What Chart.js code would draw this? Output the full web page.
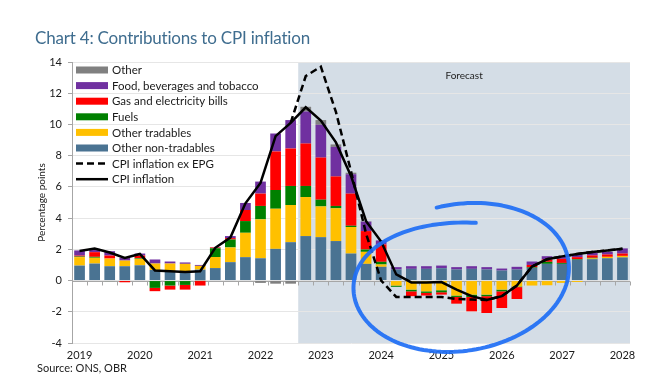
<!DOCTYPE html>
<html><head><meta charset="utf-8">
<script src="https://cdn.jsdelivr.net/npm/chart.js@4.4.1/dist/chart.umd.min.js"></script>
<style>
html,body{margin:0;padding:0;background:#fff;width:647px;height:389px;overflow:hidden}
#wrap{position:relative;width:647px;height:389px}
#title{position:absolute;left:35px;top:27px;font-family:Lato,sans-serif;font-size:17px;color:#3f6d8f;white-space:nowrap;letter-spacing:-0.2px}
#source{position:absolute;left:37px;top:361px;font-family:Lato,sans-serif;font-size:11px;color:#222;white-space:nowrap}
canvas{position:absolute;left:0;top:0}
</style></head><body>
<div id="wrap"><canvas id="c" width="647" height="389"></canvas>
<div id="title">Chart 4: Contributions to CPI inflation</div>
<div id="source">Source: ONS, OBR</div></div>
<script>
const quarters = ['2019 Q1','2019 Q2','2019 Q3','2019 Q4','2020 Q1','2020 Q2','2020 Q3','2020 Q4',
'2021 Q1','2021 Q2','2021 Q3','2021 Q4','2022 Q1','2022 Q2','2022 Q3','2022 Q4',
'2023 Q1','2023 Q2','2023 Q3','2023 Q4','2024 Q1','2024 Q2','2024 Q3','2024 Q4',
'2025 Q1','2025 Q2','2025 Q3','2025 Q4','2026 Q1','2026 Q2','2026 Q3','2026 Q4',
'2027 Q1','2027 Q2','2027 Q3','2027 Q4','2028 Q1'];
const forecastStart = '2022 Q4';

const otherNonTradables = [0.96,1.09,0.92,0.92, 0.98,0.68,0.60,0.60, 0.70,0.80,1.18,1.50, 1.43,2.03,2.46,2.85, 2.78,2.53,1.73,1.07, 0.88,0.71,0.75,0.75, 0.79,0.71,0.75,0.71, 0.64,0.71,0.81,1.07, 1.07,1.33,1.37,1.43, 1.48];
const otherTradables = [0.54,0.37,0.49,0.36, 0.41,0.41,0.49,0.47, 0.24,0.71,0.94,1.56, 2.49,2.57,2.38,2.50, 1.97,2.10,1.70,0.77, 0.15,-0.32,-0.58,-0.69, -0.62,-0.96,-0.90,-0.90, -0.58,-0.38,-0.32,-0.30, -0.15,-0.09,0.05,0.09, 0.10];
const fuels = [0.04,0.06,-0.03,-0.03, 0.04,-0.47,-0.32,-0.28, -0.02,0.56,0.51,0.75, 0.86,1.20,1.22,0.71, 0.43,0.15,0.08,0.15, 0.17,-0.08,-0.11,-0.10, -0.13,-0.09,-0.15,-0.10, -0.11,-0.04,0.04,0.13, 0.06,0.04,0.04,0.00, 0.00];
const gasElectricity = [0.06,0.30,0.19,-0.08, 0.17,-0.21,-0.26,-0.30, -0.30,0.05,0.09,0.71, 0.79,2.47,2.40,2.72, 2.70,1.89,2.06,1.18, 1.11,0.00,-0.31,-0.17, -0.15,-0.43,-0.92,-1.08, -1.07,-0.76,0.15,0.15, 0.26,0.13,0.15,0.15, 0.15];
const foodBevTobacco = [0.33,0.21,0.28,0.18, 0.13,0.26,0.13,0.09, 0.06,0.02,0.13,0.45, 0.77,1.15,1.82,2.05, 2.10,1.89,1.24,0.60, 0.26,0.15,0.17,0.17, 0.17,0.15,0.17,0.15, 0.13,0.17,0.22,0.21, 0.13,0.17,0.17,0.17, 0.33];
const other = [0,0,0,0, 0,0,0,0, 0,0,0,0, -0.15,-0.20,-0.20,0.30, 0.30,0.16,0.10,0.03, 0,0,0,0, 0,0,0,0, 0,0,0,0, 0,0,0,0, 0];
const cpiInflation = [1.9,2.05,1.8,1.45, 1.7,0.65,0.6,0.55, 0.6,2.1,2.75,4.95, 6.25,9.25,10.1,11.1, 10.25,8.85,6.7,3.8, 2.5,0.39,-0.12,-0.12, -0.1,-0.58,-1.0,-1.24, -1.0,-0.32,0.9,1.37, 1.55,1.7,1.83,1.93, 2.03];
const cpiExEpg = [null,null,null,null, null,null,null,null, null,null,null,null, null,null,10.1,13.1, 13.7,10.8,7.0,3.0, 0.0,-1.05,-1.05,-1.05, -1.05,-1.18,-1.22,-1.24, -1.0,-0.32,0.9,1.37, 1.55,1.7,1.83,1.93, 2.03];
const yTicks = [-4,-2,0,2,4,6,8,10,12,14];

const C = {other:'#808080', food:'#7030a0', gas:'#ff0000', fuels:'#008000', trad:'#ffc000', nontrad:'#4a7392', line:'#000000'};

// Hand-drawn highlight ellipse (annotation) in data coordinates
const highlight = {centerIndex:25.3, centerValue:0.2, halfWidthCats:7.2, halfHeightUnits:4.7};

function bar(label, data, color){
  return {type:'bar', label, data, backgroundColor:color, borderWidth:0, stack:'c', order:2,
    barPercentage:0.71, categoryPercentage:1.0};
}

const backdrop = {
  id:'backdrop',
  beforeDraw(chart){
    const {ctx, chartArea:a, scales:{x}} = chart;
    const i = quarters.indexOf(forecastStart);
    const x0 = (x.getPixelForValue(i-1)+x.getPixelForValue(i))/2;
    ctx.save();
    ctx.fillStyle='#d4dde6';
    ctx.fillRect(x0,a.top,a.right-x0,a.bottom-a.top);
    ctx.fillStyle='#222'; ctx.font='10px Lato'; ctx.textAlign='center'; ctx.textBaseline='middle';
    ctx.fillText('Forecast',(x0+a.right)/2,a.top+14);
    ctx.restore();
  },
  beforeDatasetsDraw(chart){
    const {ctx, chartArea:a, scales:{x,y}} = chart;
    const y0 = Math.round(y.getPixelForValue(0))+0.5;
    const half = (x.getPixelForValue(1)-x.getPixelForValue(0))/2;
    ctx.save();
    ctx.strokeStyle='#a6a6a6'; ctx.lineWidth=1;
    ctx.beginPath(); ctx.moveTo(a.left,y0); ctx.lineTo(a.right,y0);
    for(let i=0;i<=quarters.length;i++){
      const xx = Math.round(x.getPixelForValue(i)-half)+0.5;
      ctx.moveTo(xx,y0); ctx.lineTo(xx,y0+4);
    }
    ctx.stroke(); ctx.restore();
  },
  afterDatasetsDraw(chart){
    const {ctx, scales:{x,y}} = chart;
    // legend
    const items = [
      ['Other','box',C.other],['Food, beverages and tobacco','box',C.food],['Gas and electricity bills','box',C.gas],
      ['Fuels','box',C.fuels],['Other tradables','box',C.trad],['Other non-tradables','box',C.nontrad],
      ['CPI inflation ex EPG','dash',C.line],['CPI inflation','line',C.line]];
    ctx.save();
    ctx.font='11.5px Lato'; ctx.textBaseline='middle'; ctx.textAlign='left';
    items.forEach((it,k)=>{
      const yy = 70 + k*15.6;
      if(it[1]==='box'){ ctx.fillStyle=it[2]; ctx.fillRect(76,yy-3.5,32,7); }
      else { ctx.strokeStyle=it[2]; ctx.lineWidth=2.5; ctx.setLineDash(it[1]==='dash'?[7,4]:[]);
        ctx.beginPath(); ctx.moveTo(76,yy); ctx.lineTo(108,yy); ctx.stroke(); ctx.setLineDash([]); }
      ctx.fillStyle='#1a1a1a'; ctx.fillText(it[0],112,yy+0.5);
    });
    // highlight annotation
    const cx = x.getPixelForValue(highlight.centerIndex);
    const cy = y.getPixelForValue(highlight.centerValue);
    const rx = x.getPixelForValue(highlight.centerIndex+highlight.halfWidthCats)-cx;
    const ry = y.getPixelForValue(highlight.centerValue-highlight.halfHeightUnits)-cy;
    ctx.strokeStyle='rgba(30,110,245,0.92)'; ctx.lineWidth=4; ctx.lineCap='round'; ctx.lineJoin='round';
    ctx.translate(cx,cy); ctx.rotate(-0.16);
    ctx.beginPath();
    const start=-Math.PI/2+0.22, end=-5*Math.PI/2-0.12, n=160;
    for(let s=0;s<=n;s++){
      const p=s/n, phi=start+(end-start)*p;
      const k=Math.min(1,0.72+0.28*p/0.28);
      const px=rx*Math.cos(phi)*(0.93+0.07*k), py=ry*Math.sin(phi)*k;
      if(s===0) ctx.moveTo(px,py); else ctx.lineTo(px,py);
    }
    ctx.stroke();
    ctx.restore();
  }
};

new Chart(document.getElementById('c'),{
  data:{labels:quarters, datasets:[
    bar('Other non-tradables',otherNonTradables,C.nontrad),
    bar('Other tradables',otherTradables,C.trad),
    bar('Fuels',fuels,C.fuels),
    bar('Gas and electricity bills',gasElectricity,C.gas),
    bar('Food, beverages and tobacco',foodBevTobacco,C.food),
    bar('Other',other,C.other),
    {type:'line',label:'CPI inflation ex EPG',data:cpiExEpg,borderColor:C.line,borderWidth:2.5,borderDash:[7,4],pointRadius:0,tension:0,stack:'l1',order:0,spanGaps:false},
    {type:'line',label:'CPI inflation',data:cpiInflation,borderColor:C.line,borderWidth:2.5,pointRadius:0,tension:0,stack:'l2',order:0}
  ]},
  options:{
    responsive:false, animation:false, devicePixelRatio:1,
    layout:{padding:{left:31,right:17,top:62,bottom:26}},
    plugins:{legend:{display:false},tooltip:{enabled:false}},
    scales:{
      x:{stacked:true, grid:{display:false,drawTicks:false}, border:{display:false},
        ticks:{autoSkip:false,maxRotation:0,padding:6,color:'#1a1a1a',font:{family:'Lato',size:11},
          callback:(v,i)=> quarters[i].endsWith('Q1') ? quarters[i].slice(0,4) : ''},
        afterFit:s=>{s.height=20;}},
      y:{stacked:true,min:-4,max:14,
        afterBuildTicks:s=>{s.ticks=yTicks.map(v=>({value:v}));},
        grid:{color:'#e6e6e6',tickColor:'#a6a6a6',tickLength:4},
        border:{color:'#a6a6a6'},
        ticks:{padding:6,color:'#1a1a1a',font:{family:'Lato',size:11}},
        title:{display:true,text:'Percentage points',color:'#1a1a1a',font:{family:'Lato',size:10},padding:{top:5,bottom:2}},
        afterFit:s=>{s.width=41;}}
    }
  },
  plugins:[backdrop]
});
</script>
</body></html>
